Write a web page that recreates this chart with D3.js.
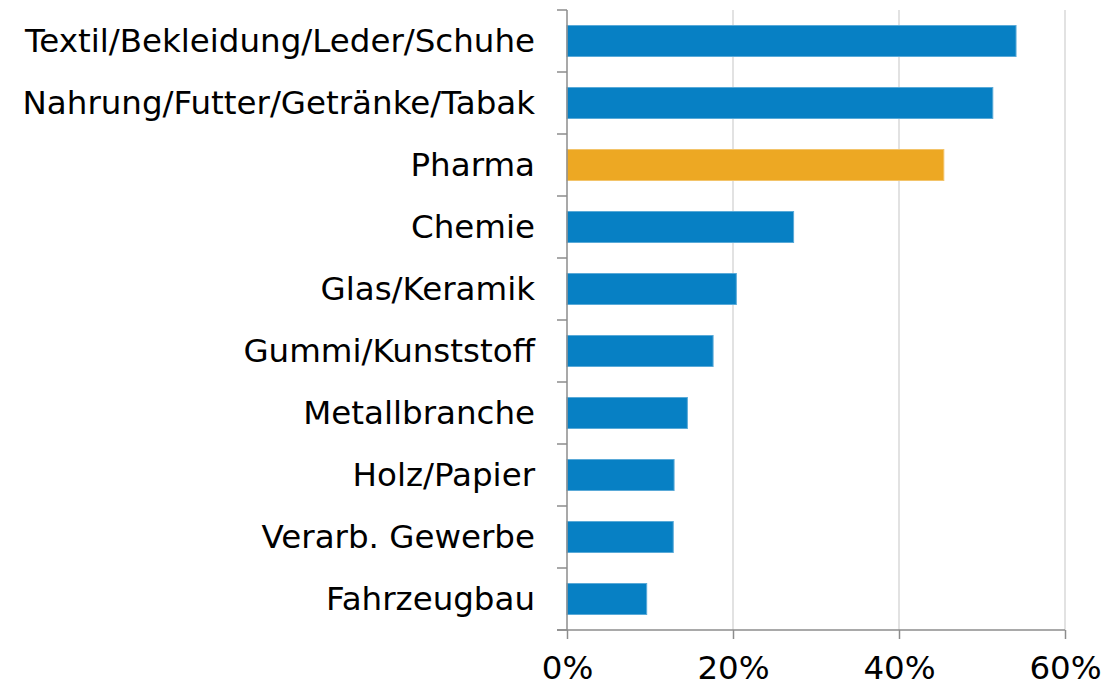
<!DOCTYPE html>
<html>
<head>
<meta charset="utf-8">
<script src="https://cdn.jsdelivr.net/npm/d3@7"></script>
<style>
  body { margin: 0; background: #fff; }
  text { font-family: "DejaVu Sans", Verdana, sans-serif; fill: #000; }
</style>
</head>
<body>
<svg id="chart" width="1105" height="688"></svg>
<script>
const categories = [
  "Textil/Bekleidung/Leder/Schuhe",
  "Nahrung/Futter/Getränke/Tabak",
  "Pharma",
  "Chemie",
  "Glas/Keramik",
  "Gummi/Kunststoff",
  "Metallbranche",
  "Holz/Papier",
  "Verarb. Gewerbe",
  "Fahrzeugbau"
];
const values = [54.1, 51.3, 45.4, 27.3, 20.4, 17.6, 14.5, 12.9, 12.8, 9.6];
const highlighted = ["Pharma"];
const xTicks = [0, 20, 40, 60];

const svg = d3.select("#chart");
const margin = { top: 10, left: 567, right: 40, bottom: 58 };
const width = 1105, height = 688;
const fontSize = 32.5;

const x = d3.scaleLinear().domain([0, 60]).range([margin.left, 1065]);
const y = d3.scaleBand().domain(categories)
  .range([margin.top, height - margin.bottom]).paddingInner(0.5).paddingOuter(0.25);

// vertical gridlines
svg.append("g").selectAll("line").data(xTicks.filter(d => d > 0)).join("line")
  .attr("x1", d => x(d)).attr("x2", d => x(d))
  .attr("y1", margin.top).attr("y2", height - margin.bottom)
  .attr("stroke", "#d9d9d9").attr("stroke-width", 1.5);

// bars
svg.append("g").selectAll("rect").data(categories).join("rect")
  .attr("x", x(0))
  .attr("y", d => y(d))
  .attr("width", (d, i) => x(values[i]) - x(0))
  .attr("height", y.bandwidth())
  .attr("fill", d => highlighted.includes(d) ? "#EDA823" : "#0780C4")
  .attr("stroke", d => highlighted.includes(d) ? "#F3C46A" : "#5AAAD8")
  .attr("stroke-width", 1);

// category axis: ticks at band boundaries
const axisColor = "#8c8c8c";
const yAxis = svg.append("g");
const step = y.step();
const bounds = d3.range(categories.length + 1).map(i => margin.top + i * step);
yAxis.append("line")
  .attr("x1", x(0)).attr("x2", x(0))
  .attr("y1", margin.top).attr("y2", height - margin.bottom)
  .attr("stroke", axisColor).attr("stroke-width", 1.5);
yAxis.selectAll("line.tick").data(bounds).join("line").attr("class", "tick")
  .attr("x1", x(0) - 10).attr("x2", x(0))
  .attr("y1", d => d).attr("y2", d => d)
  .attr("stroke", axisColor).attr("stroke-width", 1.5);
yAxis.selectAll("text").data(categories).join("text")
  .attr("x", x(0) - 32)
  .attr("y", d => y(d) + y.bandwidth() / 2)
  .attr("dy", "0.35em")
  .attr("text-anchor", "end")
  .attr("font-size", fontSize)
  .text(d => d);

// value axis
const xAxis = d3.axisBottom(x).tickValues(xTicks).tickFormat(d => d + "%")
  .tickSize(9).tickPadding(17);
const gx = svg.append("g")
  .attr("transform", `translate(0,${height - margin.bottom})`)
  .call(xAxis);
gx.select(".domain").attr("stroke", axisColor).attr("stroke-width", 1.5)
  .attr("d", `M${x(0) - 10},0H${x(60)}`);
gx.selectAll(".tick line").attr("stroke", axisColor).attr("stroke-width", 1.5);
gx.selectAll(".tick text").attr("font-size", fontSize).attr("fill", "#000")
  .style("font-family", '"DejaVu Sans", Verdana, sans-serif');
</script>
</body>
</html>
